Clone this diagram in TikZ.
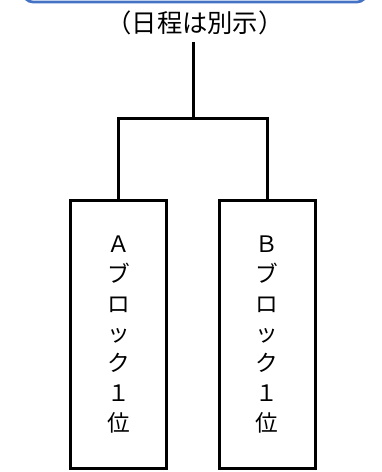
\documentclass[tikz,border=0pt]{standalone}
\usepackage{fontspec}
\newfontfamily\jpfont{Noto Sans CJK JP}
\definecolor{headblue}{HTML}{4472C4}

\begin{document}
\begin{tikzpicture}[x=0.75pt, y=-0.75pt, line width=2.25pt]

\tikzset{
  header/.style={draw=headblue, line width=2pt, rounded corners=7.5pt, minimum width=258pt, minimum height=30pt},
  note/.style={font={\jpfont\fontsize{19pt}{22pt}\selectfont}, inner sep=0pt},
  block/.style={draw, rectangle, minimum width=72pt, minimum height=201pt, align=center, inner sep=0pt,
    font={\jpfont\fontsize{17pt}{22.4pt}\selectfont}}
}

\useasboundingbox (0,0) rectangle (382,472);

% Header (cut off at the top)
\node[header] (head) at (195,-18) {};
\node[note] (date) at (195,23) {（日程は別示）};

% Final
\coordinate (stem) at (193,42);
\coordinate (join) at (193,118);

% Blocks
\node[block] (blockA) at (118.5,334.5) {Ａ\\ブ\\ロ\\ッ\\ク\\１\\位};
\node[block] (blockB) at (267,334.5) {Ｂ\\ブ\\ロ\\ッ\\ク\\１\\位};

\draw (stem) -- (join);
\draw (blockA.north) |- (join) -| (blockB.north);

\end{tikzpicture}
\end{document}
